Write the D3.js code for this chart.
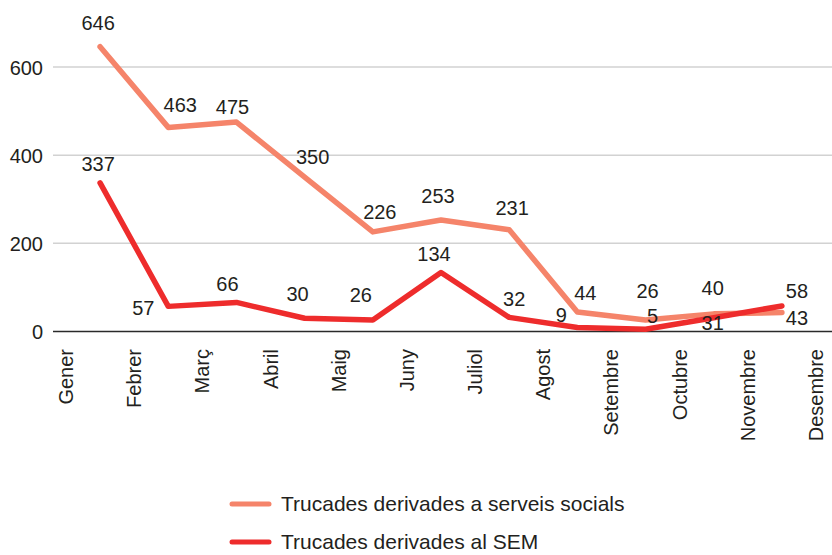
<!DOCTYPE html>
<html>
<head>
<meta charset="utf-8">
<script src="https://cdn.jsdelivr.net/npm/d3@7"></script>
<style>
  html, body { margin: 0; padding: 0; background: #fff; }
  svg { display: block; font-family: "Liberation Sans", Arial, Helvetica, sans-serif; }
</style>
</head>
<body>
<svg id="chart" width="832" height="555"></svg>
<script>
// Month labels along the x axis
const months = ["Gener", "Febrer", "Març", "Abril", "Maig", "Juny", "Juliol",
                "Agost", "Setembre", "Octubre", "Novembre", "Desembre"];

// Monthly call counts (each point sits between two month labels)
const serveisSocials = [646, 463, 475, 350, 226, 253, 231, 44, 26, 40, 43];
const sem = [337, 57, 66, 30, 26, 134, 32, 9, 5, 31, 58];

// Y axis ticks
const yTicks = [0, 200, 400, 600];

// Series names for the legend
const seriesNames = ["Trucades derivades a serveis socials", "Trucades derivades al SEM"];

// Value label placement relative to each point: [dx, dy]
const labelOffsetsSocials = [[-2, -17], [12, -15], [-4, -8], [8, -13], [7, -13], [-3, -17],
                             [3, -15], [8, -12], [2, -22], [-1, -19], [15, 12]];
const labelOffsetsSem = [[-2, -12], [-25, 9], [-9, -11], [-7, -17], [-12, -18], [-7, -11],
                         [5, -11], [-16, -6], [7, -6], [-1, 12], [15, -8]];

const colors = ["#F5846A", "#EE2C2C"];
const textColor = "#231F20";

const svg = d3.select("#chart");

const x = d3.scaleLinear().domain([0, months.length - 1]).range([66, 816]);
const y = d3.scaleLinear().domain([0, 600]).range([331.5, 67]);

const plotLeft = 53, plotRight = 832;

// Gridlines
svg.append("g")
  .selectAll("line")
  .data(yTicks.filter(t => t > 0))
  .join("line")
  .attr("x1", plotLeft).attr("x2", plotRight)
  .attr("y1", d => y(d)).attr("y2", d => y(d))
  .attr("stroke", "#D2D2D2").attr("stroke-width", 1.5);

// Y axis tick labels
const yAxis = d3.axisLeft(y).tickValues(yTicks).tickSize(0).tickPadding(0);
svg.append("g")
  .attr("transform", `translate(43,0)`)
  .call(yAxis)
  .call(g => g.select(".domain").remove())
  .call(g => g.selectAll("text")
    .attr("font-size", 20)
    .attr("font-family", "\"Liberation Sans\", Arial, sans-serif")
    .attr("fill", textColor)
    .attr("dy", "0.35em"));

// Baseline
svg.append("line")
  .attr("x1", plotLeft).attr("x2", plotRight)
  .attr("y1", y(0)).attr("y2", y(0))
  .attr("stroke", "#2A2A2A").attr("stroke-width", 1.5);

// Month labels, rotated
svg.append("g")
  .selectAll("text")
  .data(months)
  .join("text")
  .attr("transform", (d, i) => `translate(${x(i)},349) rotate(-90)`)
  .attr("text-anchor", "end")
  .attr("dy", "0.35em")
  .attr("font-size", 20)
  .attr("fill", textColor)
  .text(d => d);

// Lines
const line = d3.line()
  .x((d, i) => x(i + 0.5))
  .y(d => y(d));

const series = [
  { values: serveisSocials, offsets: labelOffsetsSocials, color: colors[0] },
  { values: sem, offsets: labelOffsetsSem, color: colors[1] }
];

series.forEach(s => {
  svg.append("path")
    .datum(s.values)
    .attr("d", line)
    .attr("fill", "none")
    .attr("stroke", s.color)
    .attr("stroke-width", 5.5)
    .attr("stroke-linejoin", "round")
    .attr("stroke-linecap", "round");
});

// Value labels
series.forEach(s => {
  svg.append("g")
    .selectAll("text")
    .data(s.values)
    .join("text")
    .attr("x", (d, i) => x(i + 0.5) + s.offsets[i][0])
    .attr("y", (d, i) => y(d) + s.offsets[i][1])
    .attr("text-anchor", "middle")
    .attr("font-size", 20)
    .attr("fill", textColor)
    .text(d => d);
});

// Legend
const legend = svg.append("g")
  .selectAll("g")
  .data(seriesNames)
  .join("g")
  .attr("transform", (d, i) => `translate(0,${504 + i * 38})`);

legend.append("line")
  .attr("x1", 232).attr("x2", 269)
  .attr("y1", 0).attr("y2", 0)
  .attr("stroke", (d, i) => colors[i])
  .attr("stroke-width", 5)
  .attr("stroke-linecap", "round");

legend.append("text")
  .attr("x", 281)
  .attr("y", 0)
  .attr("dy", "0.35em")
  .attr("font-size", 21)
  .attr("fill", textColor)
  .text(d => d);
</script>
</body>
</html>
